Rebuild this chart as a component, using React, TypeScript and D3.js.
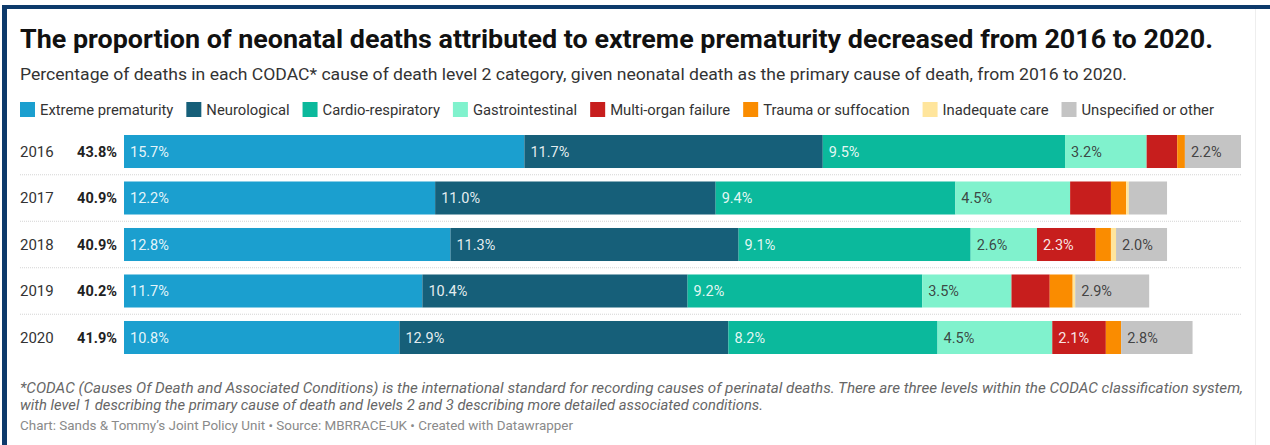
import { useRef, useEffect } from 'react'
import * as d3 from 'd3'

const years = ['2016', '2017', '2018', '2019', '2020']
const totals = [43.8, 40.9, 40.9, 40.2, 41.9]

const seriesNames = [
  'Extreme prematurity',
  'Neurological',
  'Cardio-respiratory',
  'Gastrointestinal',
  'Multi-organ failure',
  'Trauma or suffocation',
  'Inadequate care',
  'Unspecified or other',
]
const extreme = [15.7, 12.2, 12.8, 11.7, 10.8]
const neurological = [11.7, 11.0, 11.3, 10.4, 12.9]
const cardio = [9.5, 9.4, 9.1, 9.2, 8.2]
const gastro = [3.2, 4.5, 2.6, 3.5, 4.5]
const multiOrgan = [1.2, 1.6, 2.3, 1.5, 2.1]
const trauma = [0.3, 0.6, 0.6, 0.9, 0.6]
const inadequate = [0, 0.1, 0.2, 0.1, 0]
const unspecified = [2.2, 1.5, 2.0, 2.9, 2.8]

const seriesValues = [extreme, neurological, cardio, gastro, multiOrgan, trauma, inadequate, unspecified]
const seriesColors = ['#1b9fcf', '#165f79', '#0bb99c', '#80f2cd', '#c71e1d', '#fa8c00', '#ffe59c', '#c4c4c4']
const darkLabel = [false, false, false, true, false, true, true, true]

const title = 'The proportion of neonatal deaths attributed to extreme prematurity decreased from 2016 to 2020.'
const subtitle =
  'Percentage of deaths in each CODAC* cause of death level 2 category, given neonatal death as the primary cause of death, from 2016 to 2020.'
const notes = [
  '*CODAC (Causes Of Death and Associated Conditions) is the international standard for recording causes of perinatal deaths. There are three levels within the CODAC classification system,',
  'with level 1 describing the primary cause of death and levels 2 and 3 describing more detailed associated conditions.',
]
const noteWidths = [1223, 743]
const credit = 'Chart: Sands & Tommy\u2019s Joint Policy Unit \u2022 Source: MBRRACE-UK \u2022 Created with Datawrapper'

const W = 1270
const H = 445
const font = 'Roboto, sans-serif'

export default function App() {
  const ref = useRef<SVGSVGElement>(null)

  useEffect(() => {
    if (!ref.current) return
    const svg = d3.select(ref.current)
    svg.selectAll('*').remove()

    svg.append('rect').attr('width', W).attr('height', H).attr('fill', '#fff')

    // frame
    svg.append('rect').attr('x', 2).attr('y', 5).attr('width', W - 2).attr('height', 4).attr('fill', '#0d3a6b')
    svg.append('rect').attr('x', 2).attr('y', 5).attr('width', 5).attr('height', H - 5).attr('fill', '#0d3a6b')
    svg.append('line').attr('x1', 1255.5).attr('x2', 1255.5).attr('y1', 9).attr('y2', H).attr('stroke', '#eeeeee')

    // header (text stretched to the reference's widths)
    svg
      .append('text')
      .attr('x', 20)
      .attr('y', 48)
      .attr('font-family', font)
      .attr('font-weight', 700)
      .attr('font-size', '26px')
      .attr('fill', '#111')
      .attr('textLength', 1193)
      .attr('lengthAdjust', 'spacingAndGlyphs')
      .text(title)

    svg
      .append('text')
      .attr('x', 20)
      .attr('y', 80)
      .attr('font-family', font)
      .attr('font-size', '16px')
      .attr('fill', '#333')
      .attr('textLength', 1107)
      .attr('lengthAdjust', 'spacingAndGlyphs')
      .text(subtitle)

    // legend
    const legend = svg.append('g').attr('transform', 'translate(20,102)')
    let lx = 0
    seriesNames.forEach((name, i) => {
      legend.append('rect').attr('x', lx).attr('y', 0).attr('width', 15).attr('height', 15).attr('fill', seriesColors[i])
      const t = legend
        .append('text')
        .attr('x', lx + 20)
        .attr('y', 12.5)
        .attr('font-family', font)
        .attr('font-size', '14.8px')
        .attr('fill', '#333')
        .text(name)
      const w = (t.node() as SVGTextElement).getComputedTextLength()
      lx += 20 + w + 13
    })

    // scales
    const x = d3.scaleLinear().domain([0, d3.max(totals)!]).range([124, 1241])
    const y = d3.scaleBand().domain(years).range([135, 354]).paddingInner(0.29).paddingOuter(0)
    const bw = y.bandwidth()

    // separators
    years.slice(0, -1).forEach((yr) => {
      const sy = y(yr)! + bw + (y.step() - bw) / 2
      svg
        .append('line')
        .attr('x1', 20)
        .attr('x2', 1242)
        .attr('y1', sy)
        .attr('y2', sy)
        .attr('stroke', '#d4d4d4')
        .attr('stroke-dasharray', '1,1')
    })

    years.forEach((yr, r) => {
      const top = y(yr)!
      const cy = top + bw / 2

      svg
        .append('text')
        .attr('x', 20)
        .attr('y', cy)
        .attr('dy', '0.36em')
        .attr('font-family', font)
        .attr('font-size', '15px')
        .attr('fill', '#333')
        .text(yr)

      svg
        .append('text')
        .attr('x', 117)
        .attr('y', cy)
        .attr('dy', '0.36em')
        .attr('text-anchor', 'end')
        .attr('font-family', font)
        .attr('font-weight', 700)
        .attr('font-size', '14.5px')
        .attr('fill', '#222')
        .text(`${totals[r].toFixed(1)}%`)

      let acc = 0
      seriesValues.forEach((vals, i) => {
        const v = vals[r]
        const x0 = x(acc)
        const x1 = x(acc + v)
        acc += v
        if (v <= 0) return
        svg
          .append('rect')
          .attr('x', x0)
          .attr('y', top)
          .attr('width', x1 - x0)
          .attr('height', bw)
          .attr('fill', seriesColors[i])
        // datawrapper hides labels on the narrow segments
        if (v >= 2) {
          svg
            .append('text')
            .attr('x', x0 + 6)
            .attr('y', cy)
            .attr('dy', '0.36em')
            .attr('font-family', font)
            .attr('font-size', '14.5px')
            .attr('fill', darkLabel[i] ? '#333' : '#fff')
            .attr('fill-opacity', 0.9)
            .text(`${v.toFixed(1)}%`)
        }
      })
    })

    // footer
    notes.forEach((line, i) => {
      svg
        .append('text')
        .attr('x', 20)
        .attr('y', 393 + i * 17)
        .attr('font-family', font)
        .attr('font-style', 'italic')
        .attr('font-size', '14px')
        .attr('fill', '#666')
        .attr('textLength', noteWidths[i])
        .attr('lengthAdjust', 'spacingAndGlyphs')
        .text(line)
    })
    svg
      .append('text')
      .attr('x', 20)
      .attr('y', 430)
      .attr('font-family', font)
      .attr('font-size', '13px')
      .attr('fill', '#8a8a8a')
      .attr('textLength', 553)
      .attr('lengthAdjust', 'spacingAndGlyphs')
      .text(credit)
  }, [])

  return <svg ref={ref} width={W} height={H} style={{ position: 'absolute', left: 0, top: 0 }} />
}
